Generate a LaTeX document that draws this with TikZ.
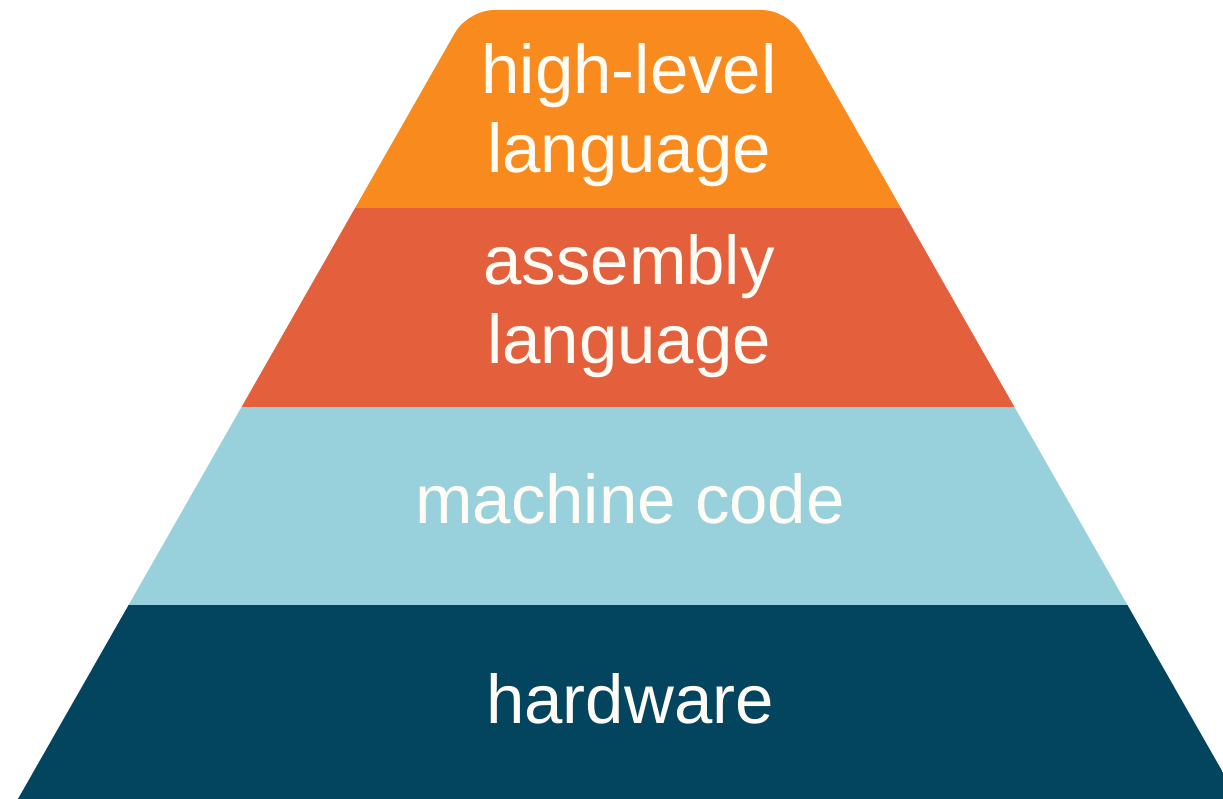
\documentclass[tikz,border=0pt]{standalone}
\usepackage{fontspec}
\setmainfont{Liberation Sans}
\definecolor{lvlorange}{HTML}{F98B1E}
\definecolor{lvlred}{HTML}{E4603C}
\definecolor{lvllight}{HTML}{98D1DB}
\definecolor{lvldark}{HTML}{03445F}
\definecolor{txtwhite}{HTML}{FFFCF5}
\tikzset{
  lbl/.style={text=txtwhite, anchor=base, align=center, inner sep=0pt,
    font=\fontsize{69}{79}\selectfont},
}
\begin{document}
\begin{tikzpicture}[x=1pt,y=-1pt]
\useasboundingbox (0,0) rectangle (1223,799);
\begin{scope}
  \clip[rounded corners=26pt] (-10,848) -- (468,10) -- (788,10) -- (1266,848) -- cycle;
  \fill[lvlorange] (-20,0) rectangle (1250,208);
  \fill[lvlred] (-20,208) rectangle (1250,407);
  \fill[lvllight] (-20,407) rectangle (1250,605);
  \fill[lvldark] (-20,605) rectangle (1250,860);
\end{scope}
\node[lbl] (hl) at (629,173) {high-level\\language};
\node[lbl] (asm) at (629,363) {assembly\\language};
\node[lbl] (mc) at (630,523) {machine code};
\node[lbl] (hw) at (630,723) {hardware};
\end{tikzpicture}
\end{document}
